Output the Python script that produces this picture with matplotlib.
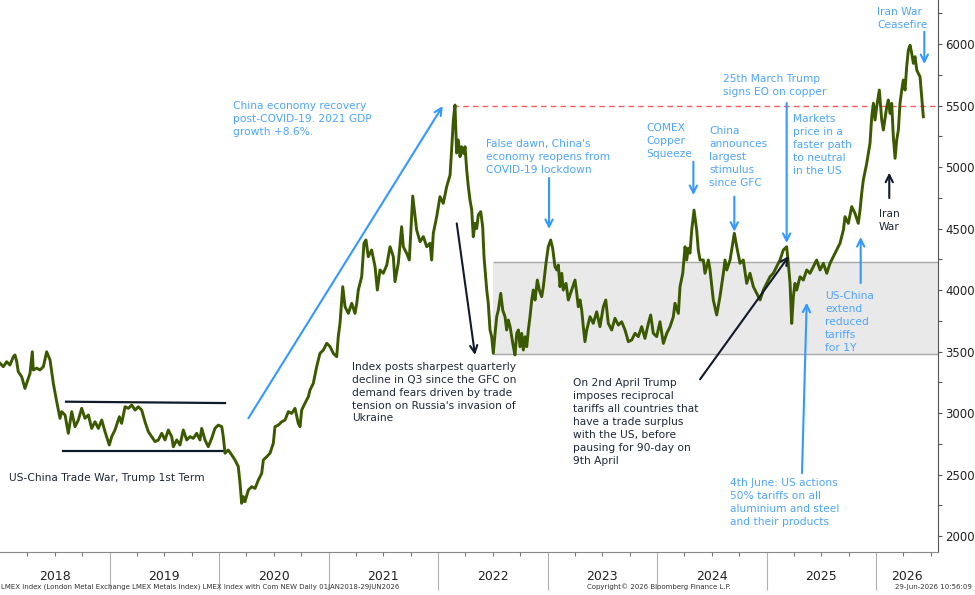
import matplotlib
matplotlib.use("Agg")
import matplotlib.pyplot as plt

# LMEX index (decimal year, index level)
t = [2018.000, 2018.030, 2018.061, 2018.091, 2018.122, 2018.137, 2018.152, 2018.167, 2018.198, 2018.228,
     2018.243, 2018.274, 2018.295, 2018.304, 2018.335, 2018.365, 2018.396, 2018.426, 2018.457, 2018.487,
     2018.518, 2018.548, 2018.563, 2018.594, 2018.624, 2018.655, 2018.685, 2018.715, 2018.746, 2018.776,
     2018.807, 2018.837, 2018.868, 2018.898, 2018.929, 2018.959, 2018.998, 2019.020, 2019.050, 2019.090,
     2019.111, 2019.142, 2019.172, 2019.203, 2019.233, 2019.263, 2019.294, 2019.324, 2019.355, 2019.385,
     2019.416, 2019.446, 2019.477, 2019.507, 2019.537, 2019.568, 2019.583, 2019.614, 2019.644, 2019.674,
     2019.705, 2019.735, 2019.765, 2019.796, 2019.826, 2019.842, 2019.872, 2019.902, 2019.933, 2019.963,
     2019.994, 2020.025, 2020.039, 2020.055, 2020.085, 2020.116, 2020.146, 2020.176, 2020.192, 2020.207,
     2020.222, 2020.237, 2020.268, 2020.299, 2020.329, 2020.359, 2020.390, 2020.405, 2020.436, 2020.466,
     2020.496, 2020.511, 2020.542, 2020.573, 2020.603, 2020.633, 2020.664, 2020.694, 2020.724, 2020.740,
     2020.755, 2020.785, 2020.816, 2020.831, 2020.861, 2020.892, 2020.922, 2020.953, 2020.984, 2021.014,
     2021.044, 2021.075, 2021.089, 2021.105, 2021.130, 2021.151, 2021.181, 2021.212, 2021.242, 2021.258,
     2021.272, 2021.303, 2021.324, 2021.342, 2021.363, 2021.394, 2021.425, 2021.446, 2021.470, 2021.500,
     2021.532, 2021.562, 2021.592, 2021.607, 2021.637, 2021.668, 2021.683, 2021.714, 2021.738, 2021.769,
     2021.805, 2021.836, 2021.866, 2021.897, 2021.927, 2021.942, 2021.957, 2021.988, 2022.018, 2022.048,
     2022.079, 2022.110, 2022.125, 2022.140, 2022.155, 2022.170, 2022.185, 2022.201, 2022.216, 2022.231,
     2022.247, 2022.262, 2022.277, 2022.292, 2022.308, 2022.322, 2022.338, 2022.353, 2022.368, 2022.390,
     2022.408, 2022.420, 2022.445, 2022.459, 2022.475, 2022.490, 2022.505, 2022.521, 2022.536, 2022.551,
     2022.573, 2022.591, 2022.612, 2022.627, 2022.642, 2022.658, 2022.673, 2022.688, 2022.703, 2022.719,
     2022.734, 2022.749, 2022.764, 2022.779, 2022.795, 2022.810, 2022.825, 2022.840, 2022.856, 2022.870,
     2022.886, 2022.907, 2022.925, 2022.947, 2022.962, 2022.986, 2023.007, 2023.029, 2023.047, 2023.068,
     2023.084, 2023.099, 2023.114, 2023.130, 2023.144, 2023.169, 2023.190, 2023.221, 2023.251, 2023.267,
     2023.281, 2023.297, 2023.312, 2023.327, 2023.342, 2023.358, 2023.388, 2023.418, 2023.449, 2023.479,
     2023.510, 2023.532, 2023.555, 2023.586, 2023.616, 2023.647, 2023.677, 2023.708, 2023.738, 2023.769,
     2023.799, 2023.829, 2023.860, 2023.890, 2023.921, 2023.942, 2023.966, 2023.997, 2024.027, 2024.058,
     2024.089, 2024.119, 2024.149, 2024.164, 2024.195, 2024.210, 2024.235, 2024.256, 2024.271, 2024.286,
     2024.301, 2024.317, 2024.338, 2024.362, 2024.377, 2024.393, 2024.423, 2024.438, 2024.469, 2024.484,
     2024.514, 2024.545, 2024.575, 2024.606, 2024.621, 2024.637, 2024.667, 2024.691, 2024.706, 2024.728,
     2024.758, 2024.788, 2024.819, 2024.849, 2024.880, 2024.910, 2024.941, 2024.971, 2025.002, 2025.032,
     2025.062, 2025.093, 2025.123, 2025.153, 2025.184, 2025.199, 2025.215, 2025.230, 2025.245, 2025.260,
     2025.276, 2025.306, 2025.336, 2025.367, 2025.397, 2025.427, 2025.458, 2025.489, 2025.519, 2025.550,
     2025.580, 2025.610, 2025.641, 2025.671, 2025.702, 2025.717, 2025.747, 2025.778, 2025.808, 2025.838,
     2025.854, 2025.869, 2025.884, 2025.915, 2025.945, 2025.961, 2025.976, 2025.991, 2026.006, 2026.030,
     2026.052, 2026.067, 2026.098, 2026.112, 2026.128, 2026.143, 2026.158, 2026.174, 2026.189, 2026.204,
     2026.219, 2026.235, 2026.249, 2026.265, 2026.280, 2026.295, 2026.311, 2026.326, 2026.341, 2026.356,
     2026.372, 2026.386, 2026.402, 2026.417, 2026.432]
lmex = [3404, 3377, 3417, 3390, 3458, 3472, 3420, 3336, 3295, 3200,
        3241, 3323, 3498, 3350, 3365, 3350, 3377, 3498, 3431, 3241,
        3092, 2957, 3011, 2984, 2835, 3011, 2889, 2943, 3038, 2957,
        2984, 2875, 2929, 2875, 2943, 2848, 2740, 2808, 2862, 2970,
        2916, 3051, 3038, 3065, 3024, 3051, 3024, 2929, 2848, 2808,
        2767, 2781, 2835, 2781, 2862, 2808, 2726, 2781, 2740, 2862,
        2781, 2808, 2794, 2835, 2781, 2875, 2781, 2726, 2794, 2875,
        2902, 2889, 2808, 2673, 2699, 2659, 2618, 2564, 2429, 2266,
        2320, 2279, 2374, 2401, 2387, 2455, 2510, 2618, 2645, 2673,
        2754, 2889, 2902, 2929, 2943, 3011, 2997, 3038, 2916, 2889,
        3024, 3079, 3133, 3187, 3241, 3377, 3485, 3512, 3567, 3540,
        3485, 3458, 3620, 3729, 4027, 3864, 3810, 3892, 3810, 3892,
        4000, 4108, 4380, 4407, 4271, 4325, 4190, 4000, 4163, 4136,
        4203, 4352, 4271, 4068, 4217, 4515, 4352, 4298, 4244, 4764,
        4488, 4393, 4434, 4352, 4380, 4244, 4461, 4597, 4759, 4705,
        4840, 4935, 5150, 5380, 5504, 5114, 5220, 5084, 5165, 5111,
        5165, 4976, 4840, 4732, 4650, 4433, 4542, 4500, 4610, 4637,
        4515, 4271, 4000, 3892, 3675, 3620, 3485, 3648, 3783, 3837,
        3973, 3837, 3783, 3675, 3756, 3702, 3620, 3539, 3472, 3648,
        3675, 3539, 3648, 3512, 3620, 3539, 3675, 3783, 3919, 4000,
        3919, 4081, 4000, 3946, 4027, 4217, 4352, 4407, 4340, 4190,
        4163, 4203, 4027, 4136, 4000, 4054, 3919, 4000, 4081, 3973,
        3864, 3919, 3837, 3702, 3580, 3675, 3783, 3729, 3823, 3702,
        3864, 3919, 3729, 3675, 3770, 3715, 3742, 3675, 3580, 3594,
        3648, 3621, 3702, 3607, 3729, 3797, 3648, 3621, 3742, 3566,
        3648, 3702, 3783, 3892, 3810, 4027, 4136, 4352, 4244, 4340,
        4300, 4488, 4650, 4488, 4325, 4244, 4244, 4136, 4244, 4163,
        3919, 3797, 3946, 4136, 4244, 4163, 4244, 4380, 4461, 4352,
        4217, 4244, 4054, 4136, 4027, 3973, 3919, 4000, 4054, 4108,
        4136, 4190, 4244, 4325, 4352, 4217, 4054, 3729, 3946, 4054,
        4000, 4108, 4081, 4163, 4136, 4190, 4244, 4163, 4217, 4136,
        4217, 4271, 4325, 4380, 4488, 4596, 4542, 4678, 4623, 4542,
        4650, 4786, 4894, 5030, 5193, 5409, 5518, 5382, 5490, 5626,
        5382, 5301, 5490, 5545, 5436, 5518, 5247, 5071, 5220, 5301,
        5518, 5626, 5707, 5626, 5816, 5951, 5990, 5924, 5843, 5897,
        5789, 5762, 5734, 5572, 5409]

years = [2018, 2019, 2020, 2021, 2022, 2023, 2024, 2025, 2026]
year_labels = ["2018", "2019", "2020", "2021", "2022", "2023", "2024", "2025", "2026"]

# ranges / levels
range_box = (2022.50, 3478, 4228)        # start, low, high
peak_level = (2022.137, 5500)            # start, level
trade_war_top = ([2018.603, 2020.055], [3092, 3081])
trade_war_bottom = ([2018.575, 2020.046], [2695, 2695])

BLUE_TXT = "#4ea5ff"
BLUE = "#3399ff"
DARK_TXT = "#1e2838"
DARK = "#111b2b"
GREEN = "#3b5a00"
FS = 7.7

fig = plt.figure(figsize=(9.75, 5.95), dpi=100)
ax = fig.add_axes([0, 1 - 552 / 595, 938 / 975, 552 / 595])

x0, x1 = 2018.0, 2026.566
y0, y1 = 1870, 6358

# grey consolidation box
ax.fill_between([range_box[0], x1], range_box[1], range_box[2], color="#e9e9e9", lw=0, zorder=0)
ax.hlines([range_box[1], range_box[2]], range_box[0], x1, color="#a8a8a8", lw=1.0, zorder=1)

# peak level
ax.hlines(peak_level[1], peak_level[0], x1, color="#ff5a5a", lw=1.0, linestyles=(0, (4, 3)), zorder=1)

# trade war channel
ax.plot(*trade_war_top, color=DARK, lw=1.6, zorder=2)
ax.plot(*trade_war_bottom, color=DARK, lw=1.6, zorder=2)

ax.plot(t, lmex, color=GREEN, lw=2.1, zorder=3, solid_joinstyle="round")

# axes styling
for s in ["left", "top"]:
    ax.spines[s].set_visible(False)
ax.spines["right"].set_color("#555555")
ax.spines["bottom"].set_color("#888888")
ax.yaxis.tick_right()
ax.set_yticks([2000, 2500, 3000, 3500, 4000, 4500, 5000, 5500, 6000])
ax.set_yticks([2250, 2750, 3250, 3750, 4250, 4750, 5250, 5750, 6250], minor=True)
ax.tick_params(axis="y", which="both", direction="out", length=3, width=0.8, color="#555555",
               labelsize=8.5, labelcolor="#222222", pad=2)

ax.set_xticks(years[1:])
ax.set_xticklabels([])
ax.tick_params(axis="x", which="major", direction="out", length=27, width=0.8, color="#b0b0b0")
quarters = [y + q for y in years for q in (0.25, 0.5, 0.75) if y + q < x1]
ax.set_xticks(quarters, minor=True)
ax.tick_params(axis="x", which="minor", direction="out", length=3, width=0.8, color="#777777")

ax.set_xlim(x0, x1)
ax.set_ylim(y0, y1)

tr = ax.get_xaxis_transform()
for y, lab in zip(years, year_labels):
    xc = min(y + 0.5, (y + x1) / 2)
    ax.text(xc, -25 / 552, lab, transform=tr, ha="center", va="center", fontsize=9, color="#222222")

# annotations
def note(x, y, s, color):
    ax.text(x, y - 25, s, ha="left", va="top", fontsize=FS, color=color, linespacing=1.36, zorder=5)

def arrow(xy_from, xy_to, color, lw=1.5):
    ax.annotate("", xy=xy_to, xytext=xy_from,
                arrowprops=dict(arrowstyle="->", color=color, lw=lw, mutation_scale=13,
                                shrinkA=0, shrinkB=0), zorder=5)

note(2020.128, 5560, "China economy recovery\npost-COVID-19. 2021 GDP\ngrowth +8.6%.", BLUE_TXT)
arrow((2020.268, 2957), (2022.043, 5496), BLUE)

note(2021.215, 3440, "Index posts sharpest quarterly\ndecline in Q3 since the GFC on\ndemand fears driven by trade\ntension on Russia's invasion of\nUkraine", DARK_TXT)
arrow((2022.171, 4542), (2022.338, 3472), DARK)

note(2022.438, 5250, "False dawn, China's\neconomy reopens from\nCOVID-19 lockdown", BLUE_TXT)
arrow((2023.014, 4911), (2023.014, 4496), BLUE)

note(2023.900, 5380, "COMEX\nCopper\nSqueeze", BLUE_TXT)
arrow((2024.332, 5043), (2024.332, 4772), BLUE)

note(2024.475, 5356, "China\nannounces\nlargest\nstimulus\nsince GFC", BLUE_TXT)
arrow((2024.706, 4759), (2024.706, 4474), BLUE)

note(2024.603, 5778, "25th March Trump\nsigns EO on copper", BLUE_TXT)
arrow((2025.184, 5520), (2025.184, 4382), BLUE)

note(2025.239, 5453, "Markets\nprice in a\nfaster path\nto neutral\nin the US", BLUE_TXT)

note(2026.027, 4681, "Iran\nWar", DARK_TXT)
arrow((2026.121, 4748), (2026.121, 4954), DARK)

note(2025.534, 4014, "US-China\nextend\nreduced\ntariffs\nfor 1Y", BLUE_TXT)
arrow((2025.860, 4057), (2025.860, 4431), BLUE)

note(2026.012, 6323, "Iran War\nCeasefire", BLUE_TXT)
arrow((2026.441, 6100), (2026.441, 5837), BLUE)

note(2023.230, 3307, "On 2nd April Trump\nimposes reciprocal\ntariffs all countries that\nhave a trade surplus\nwith the US, before\npausing for 90-day on\n9th April", DARK_TXT)
arrow((2024.393, 3274), (2025.205, 4276), DARK)

note(2024.667, 2494, "4th June: US actions\n50% tariffs on all\naluminium and steel\nand their products", BLUE_TXT)
arrow((2025.324, 2512), (2025.367, 3897), BLUE)

ax.text(2018.082, 2474, "US-China Trade War, Trump 1st Term", ha="left", va="center",
        fontsize=FS, color=DARK_TXT)

# footer
fig.text(0.001, 0.008, "LMEX Index (London Metal Exchange LMEX Metals Index) LMEX Index with Com NEW Daily 01JAN2018-29JUN2026",
         fontsize=5, color="#333333", ha="left", va="bottom")
fig.text(0.676, 0.008, "Copyright\u00a9 2026 Bloomberg Finance L.P.", fontsize=5, color="#333333",
         ha="center", va="bottom")
fig.text(0.997, 0.008, "29-Jun-2026 10:56:09", fontsize=5, color="#333333", ha="right", va="bottom")

fig.savefig("out.png", dpi=100)
